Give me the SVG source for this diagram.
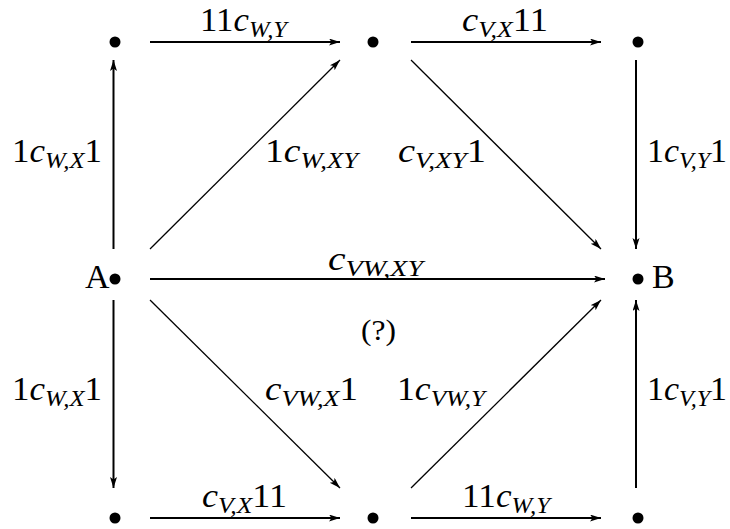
<svg xmlns="http://www.w3.org/2000/svg" width="730" height="529" viewBox="0 0 730 529">
<style>
text{font-family:"Liberation Serif","DejaVu Serif",serif;font-size:34px;fill:#000}
.i{font-style:italic}
.s{font-size:24px;font-style:italic}
.ln{stroke:#000;stroke-width:2;fill:none}
.dg{stroke:#000;stroke-width:1.3;fill:none}
.dot{fill:#000}
</style>
<defs>
<marker id="ah" markerUnits="userSpaceOnUse" markerWidth="12" markerHeight="8" refX="11" refY="3.5" orient="auto">
<path d="M0,0 L11,3.5 L0,7 L2.5,3.5 z" fill="#000"/>
</marker>
</defs>
<rect width="730" height="529" fill="#fff"/>
<g id="connectors">
<line class="ln" x1="113.5" y1="249" x2="113.5" y2="60" marker-end="url(#ah)"/>
<line class="ln" x1="150" y1="42" x2="340" y2="42" marker-end="url(#ah)"/>
<line class="ln" x1="411" y1="42" x2="601" y2="42" marker-end="url(#ah)"/>
<line class="ln" x1="636" y1="60" x2="636" y2="249" marker-end="url(#ah)"/>
<line class="dg" x1="150" y1="249" x2="340" y2="60" marker-end="url(#ah)"/>
<line class="dg" x1="411" y1="60" x2="601" y2="249" marker-end="url(#ah)"/>
<line class="ln" x1="150" y1="279" x2="605" y2="279" marker-end="url(#ah)"/>
<line class="ln" x1="113.5" y1="300" x2="113.5" y2="488" marker-end="url(#ah)"/>
<line class="dg" x1="150" y1="300" x2="340" y2="488" marker-end="url(#ah)"/>
<line class="dg" x1="411" y1="488" x2="601" y2="300" marker-end="url(#ah)"/>
<line class="ln" x1="636" y1="488" x2="636" y2="300" marker-end="url(#ah)"/>
<line class="ln" x1="150" y1="518" x2="340" y2="518" marker-end="url(#ah)"/>
<line class="ln" x1="411" y1="518" x2="601" y2="518" marker-end="url(#ah)"/>
</g>
<g id="labels">
<text x="200" y="31" textLength="87" lengthAdjust="spacingAndGlyphs">11<tspan class="i">c</tspan><tspan class="s" dy="6">W,Y</tspan></text>
<text x="462" y="31" textLength="86" lengthAdjust="spacingAndGlyphs"><tspan class="i">c</tspan><tspan class="s" dy="6">V,X</tspan><tspan dy="-6">11</tspan></text>
<text x="12" y="162" textLength="90" lengthAdjust="spacingAndGlyphs">1<tspan class="i">c</tspan><tspan class="s" dy="6">W,X</tspan><tspan dy="-6">1</tspan></text>
<text x="265" y="162" textLength="93" lengthAdjust="spacingAndGlyphs">1<tspan class="i">c</tspan><tspan class="s" dy="6">W,XY</tspan></text>
<text x="398" y="162" textLength="88" lengthAdjust="spacingAndGlyphs"><tspan class="i">c</tspan><tspan class="s" dy="6">V,XY</tspan><tspan dy="-6">1</tspan></text>
<text x="647" y="162" textLength="80" lengthAdjust="spacingAndGlyphs">1<tspan class="i">c</tspan><tspan class="s" dy="6">V,Y</tspan><tspan dy="-6">1</tspan></text>
<text x="328" y="270" textLength="95" lengthAdjust="spacingAndGlyphs"><tspan class="i">c</tspan><tspan class="s" dy="6">VW,XY</tspan></text>
<text x="361" y="340" textLength="35" lengthAdjust="spacingAndGlyphs" style="font-size:30px">(?)</text>
<text x="12" y="400" textLength="90" lengthAdjust="spacingAndGlyphs">1<tspan class="i">c</tspan><tspan class="s" dy="6">W,X</tspan><tspan dy="-6">1</tspan></text>
<text x="265" y="400" textLength="93" lengthAdjust="spacingAndGlyphs"><tspan class="i">c</tspan><tspan class="s" dy="6">VW,X</tspan><tspan dy="-6">1</tspan></text>
<text x="397" y="400" textLength="88" lengthAdjust="spacingAndGlyphs">1<tspan class="i">c</tspan><tspan class="s" dy="6">VW,Y</tspan></text>
<text x="647" y="400" textLength="80" lengthAdjust="spacingAndGlyphs">1<tspan class="i">c</tspan><tspan class="s" dy="6">V,Y</tspan><tspan dy="-6">1</tspan></text>
<text x="202" y="507" textLength="85" lengthAdjust="spacingAndGlyphs"><tspan class="i">c</tspan><tspan class="s" dy="6">V,X</tspan><tspan dy="-6">11</tspan></text>
<text x="462" y="507" textLength="88" lengthAdjust="spacingAndGlyphs">11<tspan class="i">c</tspan><tspan class="s" dy="6">W,Y</tspan></text>
</g>
<g id="node-tl"><circle class="dot" cx="115" cy="42" r="5.5"/></g>
<g id="node-tm"><circle class="dot" cx="373" cy="42" r="5.5"/></g>
<g id="node-tr"><circle class="dot" cx="638" cy="42" r="5.5"/></g>
<g id="node-A"><circle class="dot" cx="115" cy="279" r="5.5"/><text x="85" y="288">A</text></g>
<g id="node-B"><circle class="dot" cx="638" cy="279" r="5.5"/><text x="652" y="288">B</text></g>
<g id="node-bl"><circle class="dot" cx="115" cy="518" r="5.5"/></g>
<g id="node-bm"><circle class="dot" cx="373" cy="518" r="5.5"/></g>
<g id="node-br"><circle class="dot" cx="638" cy="518" r="5.5"/></g>
</svg>
